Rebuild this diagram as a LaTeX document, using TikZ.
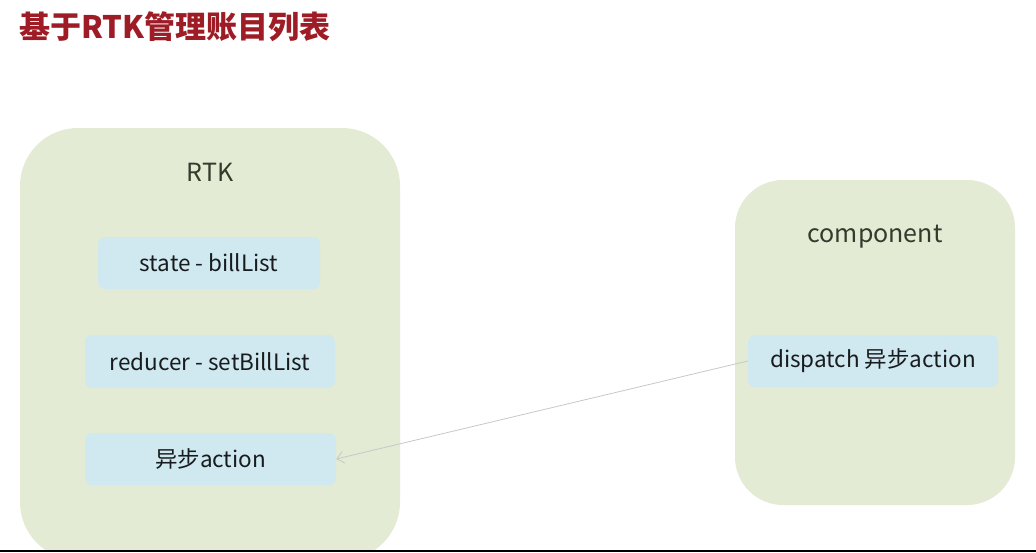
\documentclass[tikz,border=0pt]{standalone}
\usepackage{fontspec}
\setmainfont{Noto Sans CJK SC}
\usetikzlibrary{arrows.meta}
\definecolor{titlered}{RGB}{158,28,38}
\definecolor{groupgreen}{RGB}{227,235,212}
\definecolor{itemblue}{RGB}{208,232,240}
\definecolor{grouptext}{RGB}{52,58,44}
\definecolor{itemtext}{RGB}{24,28,30}
\definecolor{arrowgray}{RGB}{200,200,200}
\tikzset{
  groupbox/.style={fill=groupgreen, draw=none},
  itembox/.style={fill=itemblue, draw=none, rounded corners=7pt, inner sep=0pt,
    text=itemtext, font=\fontsize{22.5}{26}\selectfont},
  grouplabel/.style={text=grouptext, font=\fontsize{25}{29}\selectfont},
  flow/.style={draw=arrowgray, line width=0.8pt, -{Straight Barb[length=7pt,width=12pt,line width=0.8pt]}}
}
\begin{document}
\begin{tikzpicture}[x=1pt,y=-1pt]
\useasboundingbox (0,0) rectangle (1036,552);
\fill[white] (0,0) rectangle (1036,552);
% title
\node[anchor=west, text=titlered, font=\fontsize{31}{36}\selectfont\bfseries, inner sep=0pt] (title) at (19,27) {基于RTK管理账目列表};
% groups
\begin{scope}
\clip (0,0) rectangle (1036,549);
\draw[groupbox, rounded corners=58pt] (20,128) rectangle (400,560);
\end{scope}
\draw[groupbox, rounded corners=48pt] (735,180) rectangle (1015,505);
\node[grouplabel] (rtk) at (210,172) {RTK};
\node[grouplabel] (comp) at (875,237) {component};
% items
\node[itembox, minimum width=222pt, minimum height=52pt] (state) at (209,263) {state - billList};
\node[itembox, minimum width=250pt, minimum height=53pt] (reducer) at (210,361.5) {reducer - setBillList};
\node[itembox, minimum width=251pt, minimum height=52pt] (async) at (210.5,459) {异步action};
\node[itembox, minimum width=250pt, minimum height=52pt] (dispatch) at (873,361) {dispatch 异步action};
% connector
\draw[flow] (dispatch.west) -- (async.east);
% bottom bar
\fill[black] (0,549.5) rectangle (1036,552);
\end{tikzpicture}
\end{document}
